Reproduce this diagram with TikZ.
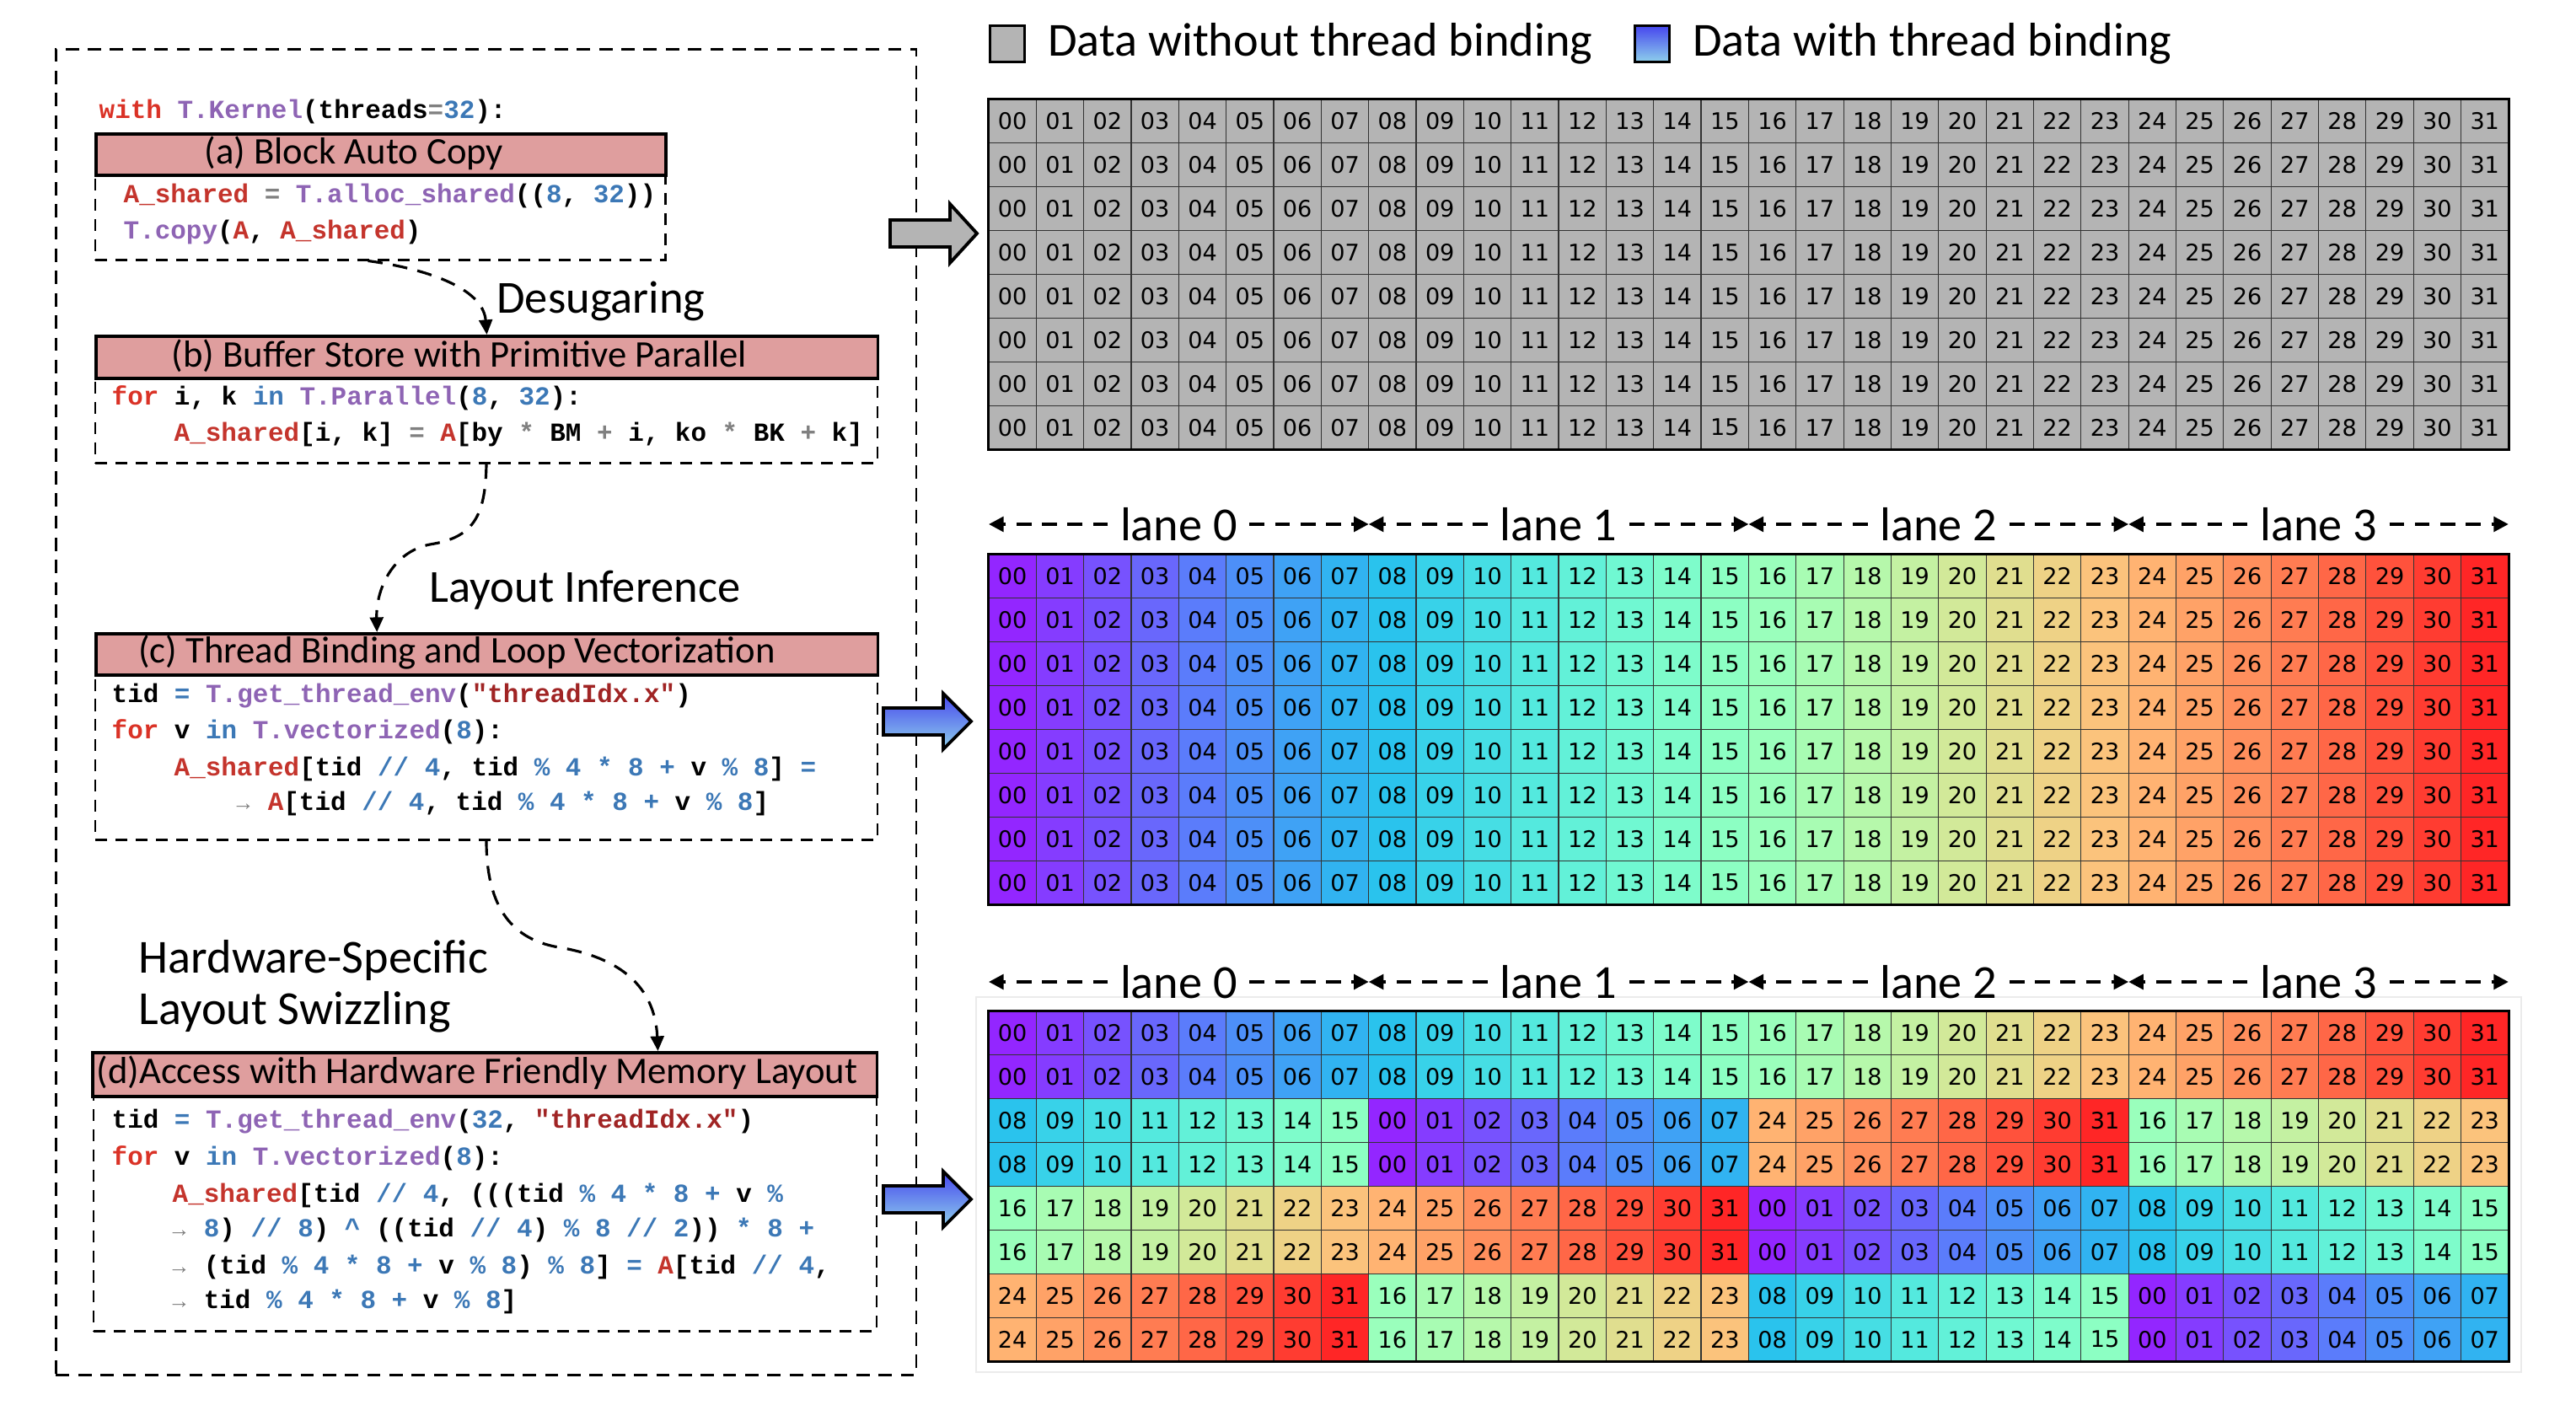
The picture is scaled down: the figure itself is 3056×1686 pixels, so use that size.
\documentclass[tikz,border=0pt]{standalone}
\usepackage{fontspec}
\usepackage{xcolor}
\usetikzlibrary{arrows.meta, positioning, calc}
\setmainfont{Carlito}
\newfontfamily\codefont{Liberation Mono}
\newfontfamily\cellfont{DejaVu Sans}

\definecolor{hdrpink}{RGB}{223,158,158}
\definecolor{cellgray}{RGB}{180,180,180}
\definecolor{kwred}{RGB}{218,50,38}
\definecolor{varred}{RGB}{196,52,44}
\definecolor{strred}{RGB}{160,36,36}
\definecolor{fnpurple}{RGB}{142,100,180}
\definecolor{numblue}{RGB}{60,120,182}
\definecolor{opgray}{RGB}{128,128,128}
\definecolor{arrowtop}{RGB}{70,70,238}
\definecolor{arrowbot}{RGB}{142,208,236}

\newcommand{\ckw}[1]{\textcolor{kwred}{#1}}
\newcommand{\cvar}[1]{\textcolor{varred}{#1}}
\newcommand{\cfn}[1]{\textcolor{fnpurple}{#1}}
\newcommand{\cnum}[1]{\textcolor{numblue}{#1}}
\newcommand{\cstr}[1]{\textcolor{strred}{#1}}
\newcommand{\cop}[1]{\textcolor{opgray}{#1}}
\newcommand{\contarr}{\makebox[1.2em][l]{\textcolor{opgray}{\fontsize{7.5}{7.5}\selectfont →}}}

\def\gridx{1173}
\def\cellw{56.34}
\def\cellh{51.9}
\def\lanew{450.72}

\begin{document}
\begin{tikzpicture}[x=0.01cm, y=-0.01cm]
    \tikzstyle{outer frame}=[draw=black, dash pattern=on 4.5pt off 3pt, line width=0.8pt, anchor=north west, inner sep=0pt]
    \tikzstyle{hdr}=[draw=black, line width=1pt, fill=hdrpink, anchor=north west, inner sep=0pt]
    \tikzstyle{hdrtext}=[font=\fontsize{12.7}{14}\selectfont, inner sep=0pt]
    \tikzstyle{codebox}=[draw=black, dash pattern=on 4pt off 2.8pt, line width=0.7pt, anchor=north west, inner sep=0pt]
    \tikzstyle{codeline}=[anchor=base west, inner sep=0pt, font=\codefont\bfseries\fontsize{8.8}{10}\selectfont]
    \tikzstyle{passlabel}=[font=\fontsize{15.5}{17.4}\selectfont, inner sep=0pt]
    \tikzstyle{flow}=[dash pattern=on 5pt off 3.5pt, line width=0.9pt, -{Triangle[length=5pt,width=4.5pt]}]
    \tikzstyle{cell}=[draw=black!80, line width=0.35pt, minimum width=0.5634cm, minimum height=0.519cm, inner sep=0pt, font=\cellfont\fontsize{7.7}{8}\selectfont]
    \tikzstyle{lanelabel}=[font=\fontsize{16}{18}\selectfont, inner sep=4pt]
    \tikzstyle{laneline}=[dash pattern=on 5pt off 3.6pt, line width=1.1pt, -{Triangle[length=5pt,width=5pt]}]
    \tikzstyle{legbox}=[draw=black, line width=1.1pt, minimum width=0.41cm, minimum height=0.43cm, inner sep=0pt]
    \tikzstyle{legtext}=[font=\fontsize{16}{18}\selectfont, inner sep=0pt]
    \tikzstyle{gray arrow}=[draw=black, line width=1.1pt, fill=cellgray]
    \tikzstyle{blue arrow}=[draw=black, line width=1.1pt, top color=arrowtop, bottom color=arrowbot]

    \useasboundingbox (0,0) rectangle (3056,1686);

    % Left panel: the lowering passes
    \node[outer frame, minimum width=10.2cm, minimum height=15.72cm] (frame) at (65,57) {};

    \node[codeline] (code-top) at (117,141) {\ckw{with} \cfn{T.Kernel}(threads\cop{=}\cnum{32}):};

    % (a)
    \node[codebox, minimum width=6.76cm, minimum height=1.01cm] (codeA) at (112,206) {};
    \node[hdr, minimum width=6.76cm, minimum height=0.49cm] (hdrA) at (112,157) {};
    \node[hdrtext] (hdrA-t) at (420,182) {(a) Block Auto Copy};
    \node[codeline] (a-1) at (146,241) {\cvar{A\_shared} \cop{=} \cfn{T.alloc\_shared}((\cnum{8}, \cnum{32}))};
    \node[codeline] (a-2) at (146,284) {\cfn{T.copy}(\cvar{A}, \cvar{A\_shared})};

    % (b)
    \node[codebox, minimum width=9.27cm, minimum height=1.01cm] (codeB) at (112,447) {};
    \node[hdr, minimum width=9.27cm, minimum height=0.5cm] (hdrB) at (112,397) {};
    \node[hdrtext] (hdrB-t) at (545,422) {(b) Buffer Store with Primitive Parallel};
    \node[codeline] (b-1) at (132,481) {\ckw{for} i, k \cnum{in} \cfn{T.Parallel}(\cnum{8}, \cnum{32}):};
    \node[codeline] (b-2) at (206,524) {\cvar{A\_shared}[i, k] \cop{=} \cvar{A}[by \cop{*} BM \cop{+} i, ko \cop{*} BK \cop{+} k]};

    % (c)
    \node[codebox, minimum width=9.27cm, minimum height=1.96cm] (codeC) at (112,799) {};
    \node[hdr, minimum width=9.27cm, minimum height=0.49cm] (hdrC) at (112,750) {};
    \node[hdrtext] (hdrC-t) at (542,774) {(c) Thread Binding and Loop Vectorization};
    \node[codeline] (c-1) at (132,834) {tid \cnum{=} \cfn{T.get\_thread\_env}(\cstr{"threadIdx.x"})};
    \node[codeline] (c-2) at (132,877) {\ckw{for} v \cnum{in} \cfn{T.vectorized}(\cnum{8}):};
    \node[codeline] (c-3) at (206,921) {\cvar{A\_shared}[tid \cnum{// 4}, tid \cnum{\% 4 * 8 +} v \cnum{\% 8}] \cnum{=}};
    \node[codeline] (c-4) at (280,962) {\contarr\cvar{A}[tid \cnum{// 4}, tid \cnum{\% 4 * 8 +} v \cnum{\% 8}]};

    % (d)
    \node[codebox, minimum width=9.28cm, minimum height=2.79cm] (codeD) at (110,1299) {};
    \node[hdr, minimum width=9.3cm, minimum height=0.52cm] (hdrD) at (108,1247) {};
    \node[hdrtext] (hdrD-t) at (566,1273) {(d)Access with Hardware Friendly Memory Layout};
    \node[codeline] (d-1) at (132,1339) {tid \cnum{=} \cfn{T.get\_thread\_env}(\cnum{32}, \cstr{"threadIdx.x"})};
    \node[codeline] (d-2) at (132,1383) {\ckw{for} v \cnum{in} \cfn{T.vectorized}(\cnum{8}):};
    \node[codeline] (d-3) at (204,1427) {\cvar{A\_shared}[tid \cnum{// 4}, (((tid \cnum{\% 4 * 8 +} v \cnum{\%}};
    \node[codeline] (d-4) at (204,1468) {\contarr\cnum{8}) \cnum{// 8}) \cnum{\textasciicircum} ((tid \cnum{// 4}) \cnum{\% 8 // 2})) \cnum{* 8 +}};
    \node[codeline] (d-5) at (204,1512) {\contarr(tid \cnum{\% 4 * 8 +} v \cnum{\% 8}) \cnum{\% 8}] \cnum{=} \cvar{A}[tid \cnum{// 4},};
    \node[codeline] (d-6) at (204,1553) {\contarr tid \cnum{\% 4 * 8 +} v \cnum{\% 8}]};

    % Passes between the stages
    \draw[flow] ($(codeA.south west)!0.478!(codeA.south east)$) .. controls (500,318) and (573,340) .. (hdrB.north);
    \node[passlabel] (desugar) at (713,357) {Desugaring};

    \draw[flow] (codeB.south) .. controls (576,615) and (560,638) .. (510,646) .. controls (465,655) and (446,700) .. ($(hdrC.north west)!0.36!(hdrC.north east)$);
    \node[passlabel] (layinf) at (694,700) {Layout Inference};

    \draw[flow] (codeC.south) .. controls (577,1080) and (610,1115) .. (663,1124) .. controls (735,1136) and (777,1170) .. ($(hdrD.north west)!0.72!(hdrD.north east)$);
    \node[passlabel, anchor=west, align=left, font=\fontsize{16}{17.4}\selectfont] (swizzle) at (164,1170) {Hardware-Specific\\Layout Swizzling};

    % Block arrows towards the buffers
    \draw[gray arrow] (1056,261) -- ++(71,0) -- ++(0,-19) -- ++(32,35) -- ++(-32,35) -- ++(0,-19) -- ++(-71,0) -- cycle;
    \foreach \ay in {856,1423}
        \draw[blue arrow] (1048,{\ay-16}) -- ++(71,0) -- ++(0,-17) -- ++(33,33) -- ++(-33,33) -- ++(0,-17) -- ++(-71,0) -- cycle;

    % Legend
    \node[legbox, fill=cellgray] (leg-gray) at (1195,52) {};
    \node[legtext, right=0.25cm of leg-gray] (leg-gray-t) {Data without thread binding};
    \node[legbox, top color=arrowtop, bottom color=arrowbot] (leg-blue) at (1960,52) {};
    \node[legtext, right=0.25cm of leg-blue] (leg-blue-t) {Data with thread binding};

    % Buffer without thread binding
    \foreach \row in {0,...,7}
        \foreach \col in {0,...,31}
            \node[cell, fill=cellgray] (top-\row-\col) at ({\gridx+(\col+0.5)*\cellw},{118+(\row+0.5)*\cellh}) {\ifnum\col<10 0\fi\col};
    \draw[line width=0.9pt] (top-0-0.north west) rectangle (top-7-31.south east);

    % Buffer after thread binding
    \foreach \row in {0,...,7}
        \foreach \col in {0,...,31} {
            \pgfmathsetmacro\colR{min(1,abs(2*\col/31-0.5))}
            \pgfmathsetmacro\colG{max(0,sin(180*\col/31))}
            \pgfmathsetmacro\colB{max(0,cos(90*\col/31))}
            \definecolor{lanec}{rgb}{\colR,\colG,\colB}
            \node[cell, fill=lanec!85!white] (mid-\row-\col) at ({\gridx+(\col+0.5)*\cellw},{658+(\row+0.5)*\cellh}) {\ifnum\col<10 0\fi\col};
        }
    \draw[line width=0.9pt] (mid-0-0.north west) rectangle (mid-7-31.south east);

    % Buffer after swizzling
    \draw[black!8, line width=0.5pt] (1158,1183) rectangle (2991,1628);
    \foreach \row in {0,...,7}
        \foreach \col in {0,...,31} {
            \pgfmathtruncatemacro\val{8*(mod(floor(\col/8)+floor(\row/2),2)+2*mod(floor(\col/16)+floor(\row/4),2))+mod(\col,8)}
            \pgfmathsetmacro\colR{min(1,abs(2*\val/31-0.5))}
            \pgfmathsetmacro\colG{max(0,sin(180*\val/31))}
            \pgfmathsetmacro\colB{max(0,cos(90*\val/31))}
            \definecolor{lanec}{rgb}{\colR,\colG,\colB}
            \node[cell, fill=lanec!85!white] (bot-\row-\col) at ({\gridx+(\col+0.5)*\cellw},{1200+(\row+0.5)*\cellh}) {\ifnum\val<10 0\fi\val};
        }
    \draw[line width=0.9pt] (bot-0-0.north west) rectangle (bot-7-31.south east);

    % Lane annotations
    \foreach \g/\ly in {mid/622, bot/1165}
        \foreach \l in {0,...,3} {
            \node[lanelabel] (\g-lane-\l) at ({\gridx+(\l+0.5)*\lanew},\ly) {lane \l};
            \draw[laneline] (\g-lane-\l.west) -- ({\gridx+\l*\lanew},\ly);
            \draw[laneline] (\g-lane-\l.east) -- ({\gridx+(\l+1)*\lanew},\ly);
        }
\end{tikzpicture}
\end{document}
